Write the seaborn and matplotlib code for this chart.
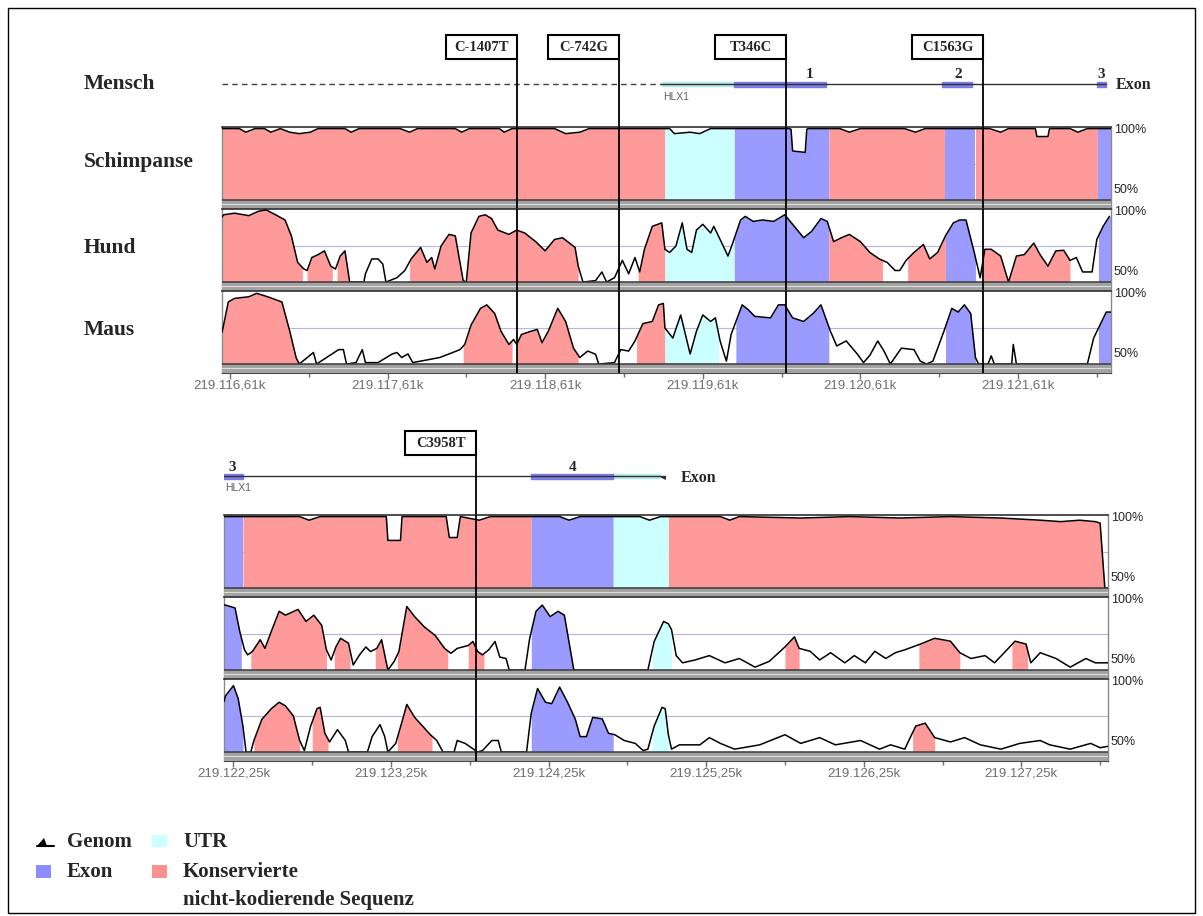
import numpy as np
import matplotlib
matplotlib.use("Agg")
import matplotlib.pyplot as plt
from matplotlib.patches import Rectangle
import seaborn as sns

W, H = 1203, 916

# ---------------- Daten: oberer Abschnitt (kb, 219.xxx) ----------------
p1_xlim = (116.56, 122.20)
p1_ticks = [116.61, 117.61, 118.61, 119.61, 120.61, 121.61]
p1_minor = [117.11, 118.11, 119.11, 120.11, 121.11, 122.11]
p1_ticklabels = ["219.116,61k", "219.117,61k", "219.118,61k",
                 "219.119,61k", "219.120,61k", "219.121,61k"]

p1_chimp_x = [116.56, 116.67, 116.71, 116.77, 116.83, 116.87, 116.93, 116.99, 117.05, 117.12,
              117.17, 117.34, 117.38, 117.43, 117.69, 117.75, 117.80, 118.04, 118.08, 118.13,
              118.32, 118.35, 118.40, 118.67, 118.74, 118.83, 118.89, 119.40, 119.43, 119.53,
              119.59, 119.66, 120.16, 120.17, 120.18, 120.26, 120.27, 120.28, 120.48, 120.54,
              120.61, 120.89, 120.96, 121.02, 121.43, 121.50, 121.55, 121.72, 121.73, 121.80,
              121.81, 121.94, 121.99, 122.05, 122.20]
p1_chimp_y = [99.5, 99.5, 97, 99.5, 99.5, 97, 99.5, 97, 96, 97,
              99.5, 99.5, 97, 99.5, 99.5, 97, 99.5, 99.5, 97, 99.5,
              99.5, 97, 99.5, 99.5, 96, 97, 99.5, 99.5, 96, 97,
              96, 99.5, 99.5, 99, 84, 83, 99, 99.5, 99.5, 97,
              99.5, 99.5, 97, 99.5, 99.5, 97, 99.5, 99.5, 94, 94,
              99.5, 99.5, 97, 99.5, 99.5]
p1_chimp_regions = [(116.56, 119.37, "cns"), (119.37, 119.81, "utr"), (119.81, 120.41, "exon"),
                    (120.41, 121.15, "cns"), (121.15, 121.34, "exon"), (121.34, 122.12, "cns"),
                    (122.12, 122.20, "exon")]

p1_dog_x = [116.56, 116.57, 116.64, 116.73, 116.79, 116.84, 116.90, 116.96, 117.00, 117.04,
            117.08, 117.10, 117.13, 117.17, 117.21, 117.25, 117.28, 117.31, 117.34, 117.37,
            117.46, 117.47, 117.51, 117.55, 117.58, 117.60, 117.67, 117.72, 117.76, 117.82,
            117.86, 117.89, 117.91, 117.95, 118.00, 118.04, 118.09, 118.11, 118.14, 118.19,
            118.23, 118.27, 118.31, 118.38, 118.43, 118.48, 118.55, 118.61, 118.67, 118.72,
            118.80, 118.82, 118.85, 118.93, 118.97, 119.00, 119.05, 119.10, 119.14, 119.18,
            119.21, 119.24, 119.29, 119.35, 119.37, 119.40, 119.44, 119.48, 119.51, 119.54,
            119.57, 119.61, 119.66, 119.68, 119.72, 119.77, 119.80, 119.85, 119.88, 119.93,
            119.99, 120.06, 120.13, 120.18, 120.25, 120.30, 120.36, 120.40, 120.44, 120.49,
            120.54, 120.61, 120.67, 120.73, 120.78, 120.83, 120.86, 120.90, 120.95, 121.01,
            121.05, 121.10, 121.15, 121.20, 121.24, 121.28, 121.33, 121.37, 121.40, 121.44,
            121.50, 121.55, 121.60, 121.65, 121.71, 121.75, 121.80, 121.85, 121.90, 121.94,
            121.98, 122.02, 122.08, 122.11, 122.15, 122.19]
p1_dog_y = [95, 96.6, 97.7, 96, 99, 100, 96.6, 93, 82, 63.6,
            59, 58, 67, 69, 71.6, 61, 59, 68, 71.6, 50,
            50, 55.7, 66, 66, 62.5, 50, 53, 58, 66, 74,
            63.6, 67, 59, 75, 83, 82, 51, 50, 84, 95.5,
            96.6, 94, 86, 83, 86, 84, 78, 71.6, 79.5, 80.7,
            74, 61, 50, 51, 57, 50, 53, 65, 55.7, 67,
            57, 72.7, 88.6, 91, 72.7, 70.5, 75, 91, 72.7, 70.5,
            86, 90, 84, 88.6, 79.5, 68, 77, 93, 95.5, 92,
            93, 92, 96.6, 90, 80.7, 85, 94, 92, 78, 80.7,
            83, 78, 70.5, 66, 63.6, 58, 58, 65, 70.5, 76,
            66, 70.5, 82, 91, 93, 93, 71.6, 53, 72.7, 72.7,
            68, 50, 68, 69, 77, 69, 61, 71.6, 72, 65,
            67, 57, 57, 79.5, 88.6, 95.5]
p1_dog_regions = [(116.56, 117.07, "cns"), (117.10, 117.26, "cns"), (117.29, 117.37, "cns"),
                  (117.75, 118.09, "cns"), (118.11, 118.82, "cns"), (119.20, 119.37, "cns"),
                  (119.37, 119.81, "utr"), (119.81, 120.41, "exon"), (120.41, 120.75, "cns"),
                  (120.91, 121.15, "cns"), (121.15, 121.34, "exon"), (121.39, 121.94, "cns"),
                  (122.12, 122.20, "exon")]

p1_mouse_x = [116.56, 116.57, 116.60, 116.64, 116.73, 116.78, 116.85, 116.94, 116.99, 117.03,
              117.05, 117.14, 117.16, 117.30, 117.33, 117.35, 117.41, 117.45, 117.47, 117.55,
              117.64, 117.67, 117.70, 117.74, 117.77, 117.94, 118.00, 118.07, 118.10, 118.14,
              118.20, 118.24, 118.29, 118.33, 118.38, 118.41, 118.43, 118.46, 118.52, 118.56,
              118.59, 118.63, 118.69, 118.74, 118.79, 118.83, 118.88, 118.93, 118.95, 119.05,
              119.09, 119.14, 119.18, 119.23, 119.29, 119.33, 119.36, 119.37, 119.42, 119.47,
              119.50, 119.53, 119.57, 119.61, 119.66, 119.69, 119.72, 119.76, 119.79, 119.86,
              119.90, 119.94, 120.04, 120.09, 120.13, 120.18, 120.25, 120.31, 120.36, 120.42,
              120.46, 120.52, 120.59, 120.63, 120.67, 120.72, 120.76, 120.80, 120.87, 120.95,
              120.99, 121.03, 121.07, 121.14, 121.19, 121.23, 121.27, 121.31, 121.34, 121.36,
              121.42, 121.44, 121.46, 121.57, 121.58, 121.60, 122.05, 122.09, 122.13, 122.17,
              122.20]
p1_mouse_y = [72, 77, 93, 95.5, 96.6, 99, 96.6, 93, 72.7, 54.5,
              50, 58, 50, 60, 60, 50, 51, 60, 51, 51,
              57, 58, 54.5, 57, 51, 54.5, 57, 60, 63.6, 77,
              88.6, 91, 85, 72.7, 63.6, 67, 63.6, 70.5, 72.7, 74,
              64.8, 72.7, 88.6, 79.5, 61, 54.5, 59, 56.8, 50, 51,
              60, 59, 66, 78, 79.5, 91, 92, 75, 68, 84,
              70.5, 57, 72.7, 84, 79.5, 82, 66, 52, 70.5, 91,
              87.5, 83, 82, 91, 91, 82, 79.5, 85, 91, 72.7,
              62.5, 66, 57, 51, 56, 66, 59, 50, 61, 60,
              52, 50, 52, 72.7, 88.6, 86, 91, 85, 54.5, 50,
              50, 55.7, 50, 50, 63.6, 50, 50, 68, 77, 86,
              86]
p1_mouse_regions = [(116.56, 117.04, "cns"), (118.09, 118.40, "cns"), (118.43, 118.82, "cns"),
                    (119.19, 119.37, "cns"), (119.37, 119.71, "utr"), (119.82, 120.41, "exon"),
                    (121.15, 121.34, "exon"), (122.12, 122.20, "exon")]

p1_dashed = (116.56, 119.34)
p1_solid = (119.34, 122.17)
p1_utr_bar = [(119.35, 119.81)]
p1_exon_bars = [(119.81, 120.39), (121.13, 121.32), (122.11, 122.17)]
p1_exon_numbers = ["1", "2", "3"]
p1_exon_number_pos = [120.29, 121.23, 122.14]
p1_markers = ["C-1407T", "C-742G", "T346C", "C1563G"]
p1_marker_pos = [118.43, 119.08, 120.14, 121.39]

# ---------------- Daten: unterer Abschnitt ----------------
p2_xlim = (122.19, 127.80)
p2_ticks = [122.25, 123.25, 124.25, 125.25, 126.25, 127.25]
p2_minor = [122.75, 123.75, 124.75, 125.75, 126.75, 127.75]
p2_ticklabels = ["219.122,25k", "219.123,25k", "219.124,25k",
                 "219.125,25k", "219.126,25k", "219.127,25k"]

p2_chimp_x = [122.19, 122.67, 122.73, 122.80, 123.22, 123.23, 123.31, 123.32, 123.60, 123.62,
              123.67, 123.69, 123.81, 123.88, 124.32, 124.38, 124.45, 124.83, 124.89, 124.96,
              125.34, 125.40, 125.46, 125.85, 126.16, 126.48, 126.80, 127.12, 127.37, 127.50,
              127.62, 127.72, 127.75, 127.78, 127.80]
p2_chimp_y = [99.5, 99.5, 97, 99.5, 99.5, 83, 83, 99.5, 99.5, 85,
              85, 99.5, 97, 99.5, 99.5, 97, 99.5, 99.5, 97, 99.5,
              99.5, 97, 99.5, 98.5, 99.5, 98.5, 99.5, 98.5, 97, 96,
              97, 96, 95, 50, 50]
p2_chimp_regions = [(122.19, 122.31, "exon"), (122.31, 124.14, "cns"), (124.14, 124.66, "exon"),
                    (124.66, 125.01, "utr"), (125.01, 127.80, "cns")]

p2_dog_x = [122.19, 122.20, 122.26, 122.29, 122.32, 122.34, 122.37, 122.42, 122.45, 122.49,
            122.54, 122.58, 122.66, 122.71, 122.76, 122.81, 122.84, 122.87, 122.90, 122.93,
            122.98, 123.01, 123.05, 123.09, 123.12, 123.16, 123.19, 123.21, 123.23, 123.27,
            123.30, 123.35, 123.40, 123.46, 123.53, 123.59, 123.63, 123.67, 123.74, 123.77,
            123.80, 123.83, 123.87, 123.91, 123.94, 123.98, 124.00, 124.10, 124.13, 124.17,
            124.21, 124.26, 124.31, 124.35, 124.41, 124.88, 124.92, 124.98, 125.01, 125.03,
            125.06, 125.10, 125.18, 125.27, 125.37, 125.46, 125.56, 125.65, 125.75, 125.81,
            125.84, 125.91, 125.97, 126.04, 126.13, 126.19, 126.26, 126.32, 126.39, 126.45,
            126.51, 126.61, 126.70, 126.80, 126.86, 126.93, 127.02, 127.08, 127.15, 127.21,
            127.28, 127.31, 127.37, 127.47, 127.56, 127.66, 127.72, 127.80]
p2_dog_y = [95, 95, 93, 76.7, 64, 60.5, 62.8, 71, 65, 76.7,
            90.7, 88, 92, 83.7, 88, 81, 64, 57, 66, 72,
            68.6, 53.5, 60.5, 66, 62.8, 65, 71, 60.5, 50, 56,
            62.8, 94, 87, 80, 74, 65, 61.6, 65, 67, 69.8,
            62.8, 60.5, 64, 69.8, 59, 58, 50, 50, 72, 90.7,
            95, 87, 90.7, 88, 50, 50, 69.8, 83.7, 82, 78,
            60, 55, 57, 60, 55, 58, 52, 56, 66, 73,
            65, 63, 57, 62, 55, 60, 55, 63, 58, 62,
            64, 68, 72, 70, 62, 58, 60, 55, 63, 70,
            68, 55, 62, 58, 52, 58, 55, 55]
p2_dog_regions = [(122.19, 122.30, "exon"), (122.36, 122.84, "cns"), (122.89, 122.99, "cns"),
                  (123.15, 123.22, "cns"), (123.29, 123.61, "cns"), (123.74, 123.84, "cns"),
                  (124.14, 124.41, "exon"), (124.91, 125.03, "utr"), (125.75, 125.84, "cns"),
                  (126.60, 126.86, "cns"), (127.19, 127.29, "cns")]

p2_mouse_x = [122.19, 122.20, 122.25, 122.28, 122.31, 122.33, 122.36, 122.38, 122.43, 122.49,
              122.54, 122.58, 122.63, 122.67, 122.70, 122.74, 122.78, 122.80, 122.83, 122.86,
              122.91, 122.96, 122.98, 123.10, 123.13, 123.18, 123.21, 123.23, 123.28, 123.33,
              123.35, 123.40, 123.45, 123.50, 123.54, 123.58, 123.65, 123.67, 123.72, 123.76,
              123.80, 123.83, 123.89, 123.93, 123.95, 124.11, 124.14, 124.18, 124.23, 124.27,
              124.32, 124.37, 124.42, 124.45, 124.49, 124.53, 124.59, 124.63, 124.67, 124.73,
              124.80, 124.85, 124.88, 124.92, 124.97, 124.99, 125.01, 125.03, 125.08, 125.21,
              125.27, 125.34, 125.43, 125.59, 125.75, 125.85, 125.97, 126.07, 126.23, 126.35,
              126.42, 126.51, 126.58, 126.64, 126.70, 126.80, 126.89, 126.99, 127.12, 127.24,
              127.37, 127.43, 127.56, 127.69, 127.75, 127.80]
p2_mouse_y = [85, 89, 96, 87, 68, 50, 50, 58, 72.6, 80,
              84.5, 82, 75, 58, 51, 68, 80, 81, 63, 57,
              65.5, 58, 50, 50, 60.7, 69, 60.7, 50, 56, 75,
              83, 74, 68, 62, 58, 50, 50, 58, 56, 53,
              50, 51, 58, 58, 50, 50, 77, 94, 84.5, 83.5,
              95, 84.5, 72.6, 60.7, 60.7, 74, 73, 63, 62, 58,
              56, 51, 52, 68, 81, 80, 62, 52, 55, 55,
              60, 56, 52, 55, 62, 56, 60, 55, 58, 52,
              55, 52, 68, 70, 60, 57, 60, 55, 52, 56,
              58, 55, 52, 56, 53, 54]
p2_mouse_regions = [(122.19, 122.31, "exon"), (122.38, 122.67, "cns"), (122.75, 122.85, "cns"),
                    (123.29, 123.51, "cns"), (124.14, 124.66, "exon"), (124.91, 125.01, "utr"),
                    (126.56, 126.70, "cns")]

p2_solid = (122.19, 124.99)
p2_utr_bar = [(124.66, 124.96)]
p2_exon_bars = [(122.19, 122.31), (124.14, 124.66)]
p2_exon_numbers = ["3", "4"]
p2_exon_number_pos = [122.24, 124.40]
p2_markers = ["C3958T"]
p2_marker_pos = [123.79]

species = ["Mensch", "Schimpanse", "Hund", "Maus"]

COLORS = {"cns": "#ff9a9a", "exon": "#9a9aff", "utr": "#ccffff"}
BAND_LOW = 43.8
BOX_W = 0.45

sns.set_style("white")
plt.rcParams["font.family"] = ["Liberation Serif", "DejaVu Serif"]

fig = plt.figure(figsize=(W / 100, H / 100), dpi=100)


def px_axes(x0, y0, x1, y1):
    return fig.add_axes([x0 / W, 1 - y1 / H, (x1 - x0) / W, (y1 - y0) / H])


overlay = px_axes(0, 0, W, H)
overlay.set_xlim(0, W)
overlay.set_ylim(H, 0)
overlay.axis("off")
overlay.add_patch(Rectangle((8, 8), 1187, 905, fill=False, ec="black", lw=1))


def draw_track(ax, xs, ys, regions, xlim, markers, ticks=None, minor=None, labels=None):
    xs = np.asarray(xs)
    ys = np.asarray(ys)
    ax.set_xlim(xlim)
    ax.set_ylim(BAND_LOW, 100.6)
    ax.axhline(75, color="#b6b6de", lw=0.8, zorder=0)
    for s, e, kind in regions:
        inside = (xs > s) & (xs < e)
        rx = np.concatenate([[s], xs[inside], [e]])
        ry = np.interp(rx, xs, ys)
        ax.fill_between(rx, 50, ry, color=COLORS[kind], lw=0, zorder=1)
    sns.lineplot(x=xs, y=ys, ax=ax, color="black", lw=1.1, estimator=None, sort=False, zorder=3)
    ax.axhspan(BAND_LOW, 50, color="#a2a2a2", lw=0, zorder=4)
    ax.axhline(50, color="#3a3a3a", lw=1.1, zorder=5)
    ax.axhline(47, color="#dedede", lw=0.8, zorder=5)
    for m in markers:
        ax.axvline(m, color="black", lw=1.3, zorder=6)
    for side in ["left", "right"]:
        ax.spines[side].set_color("#8a8a8a")
        ax.spines[side].set_linewidth(1)
    ax.spines["top"].set_color("#303030")
    ax.spines["top"].set_linewidth(1.2)
    ax.spines["bottom"].set_color("#4a4a4a")
    ax.set_yticks([])
    ax.set_xlabel("")
    ax.set_ylabel("")
    if ticks is None:
        ax.set_xticks([])
    else:
        ax.set_xticks(ticks)
        ax.set_xticklabels(labels, fontsize=9.5, color="#6e6e6e", family="Liberation Sans")
        ax.set_xticks(minor, minor=True)
        ax.tick_params(axis="x", which="major", bottom=True, length=4, width=1,
                       color="#707070", direction="out", pad=1)
        ax.tick_params(axis="x", which="minor", bottom=True, length=3, width=1,
                       color="#707070", direction="out")
    ax.text(1.003, 98.3, "100%", transform=ax.get_yaxis_transform(), fontsize=9,
            family="Liberation Sans", va="center", ha="left")
    ax.text(1.003, 57, "50%", transform=ax.get_yaxis_transform(), fontsize=9,
            family="Liberation Sans", va="center", ha="left")


def draw_annotation(ax, xlim, y_line, y_top, y_bottom, solid, utr, exons, numbers, number_pos,
                    markers, marker_pos, box_top, dashed=None):
    ax.set_xlim(xlim)
    ax.set_ylim(y_bottom, y_top)
    ax.axis("off")
    if dashed is not None:
        ax.plot(dashed, [y_line, y_line], ls=(0, (4, 3)), color="#404040", lw=1)
    ax.plot(solid, [y_line, y_line], color="#303030", lw=1)
    end = solid[1]
    ax.fill([end - 0.05, end + 0.005, end + 0.005], [y_line, y_line, y_line + 4],
            color="#303030", lw=0)
    ax.broken_barh([(s, e - s) for s, e in utr], (y_line - 2, 4), color="#b6ecec")
    ax.broken_barh([(s, e - s) for s, e in exons], (y_line - 2.5, 5), color="#7c7ce6")
    for t, x in zip(numbers, number_pos):
        ax.text(x, y_line - 9, t, fontsize=11, fontweight="bold", ha="center", va="center")
    for t, m in zip(markers, marker_pos):
        ax.add_patch(Rectangle((m - BOX_W, box_top), BOX_W, 24, fc="white", ec="black",
                               lw=1.5, zorder=4))
        ax.text(m - BOX_W / 2, box_top + 12.5, t, fontsize=10.5, fontweight="bold",
                ha="center", va="center", zorder=5)
        ax.plot([m, m], [box_top + 24, y_bottom], color="black", lw=1.3, zorder=3)


# oberer Abschnitt
ax_a1 = px_axes(222, 28, 1111, 127)
draw_annotation(ax_a1, p1_xlim, 84, 28, 127, p1_solid, p1_utr_bar, p1_exon_bars,
                p1_exon_numbers, p1_exon_number_pos, p1_markers, p1_marker_pos, 35,
                dashed=p1_dashed)
ax_a1.text(p1_utr_bar[0][0] + 0.01, 97, "HLX1", fontsize=7.5, color="#606060",
           family="Liberation Sans", ha="left", va="center")

p1_tracks = [(p1_chimp_x, p1_chimp_y, p1_chimp_regions),
             (p1_dog_x, p1_dog_y, p1_dog_regions),
             (p1_mouse_x, p1_mouse_y, p1_mouse_regions)]
for i, (xs, ys, reg) in enumerate(p1_tracks):
    top = 127 + 82 * i
    ax = px_axes(222, top, 1111, top + 82)
    if i == 2:
        draw_track(ax, xs, ys, reg, p1_xlim, p1_marker_pos, p1_ticks, p1_minor, p1_ticklabels)
    else:
        draw_track(ax, xs, ys, reg, p1_xlim, p1_marker_pos)

# unterer Abschnitt
ax_a2 = px_axes(224, 420, 1108, 515)
draw_annotation(ax_a2, p2_xlim, 476, 420, 515, p2_solid, p2_utr_bar, p2_exon_bars,
                p2_exon_numbers, p2_exon_number_pos, p2_markers, p2_marker_pos, 431)
ax_a2.text(p2_xlim[0] + 0.01, 488, "HLX1", fontsize=7.5, color="#606060",
           family="Liberation Sans", ha="left", va="center")
ax_a2.text(p2_solid[1] + 0.1, 478, "Exon", fontsize=11.5, fontweight="bold",
           ha="left", va="center")

p2_tracks = [(p2_chimp_x, p2_chimp_y, p2_chimp_regions),
             (p2_dog_x, p2_dog_y, p2_dog_regions),
             (p2_mouse_x, p2_mouse_y, p2_mouse_regions)]
for i, (xs, ys, reg) in enumerate(p2_tracks):
    top = 515 + 82 * i
    ax = px_axes(224, top, 1108, top + 82)
    if i == 2:
        draw_track(ax, xs, ys, reg, p2_xlim, p2_marker_pos, p2_ticks, p2_minor, p2_ticklabels)
    else:
        draw_track(ax, xs, ys, reg, p2_xlim, p2_marker_pos)

# Beschriftungen links
for name, y in zip(species, [84, 162, 248, 330]):
    overlay.text(84, y, name, fontsize=15.5, fontweight="bold", ha="left", va="center")
overlay.text(1116, 85, "Exon", fontsize=11.5, fontweight="bold", ha="left", va="center")

# Legende
overlay.fill([37, 44, 47], [846, 838, 846], color="black", lw=0)
overlay.plot([37, 54], [846, 846], color="black", lw=1.5)
overlay.text(67, 842, "Genom", fontsize=15, fontweight="bold", va="center")
overlay.add_patch(Rectangle((152, 835), 15, 12, color=COLORS["utr"], lw=0))
overlay.text(183, 842, "UTR", fontsize=15, fontweight="bold", va="center")
overlay.add_patch(Rectangle((36, 865), 15, 13, color="#8c8cff", lw=0))
overlay.text(67, 872, "Exon", fontsize=15, fontweight="bold", va="center")
overlay.add_patch(Rectangle((152, 865), 15, 13, color="#ff9090", lw=0))
overlay.text(183, 872, "Konservierte", fontsize=15, fontweight="bold", va="center")
overlay.text(183, 900, "nicht-kodierende Sequenz", fontsize=15, fontweight="bold", va="center")

fig.savefig("out.png", dpi=100)
